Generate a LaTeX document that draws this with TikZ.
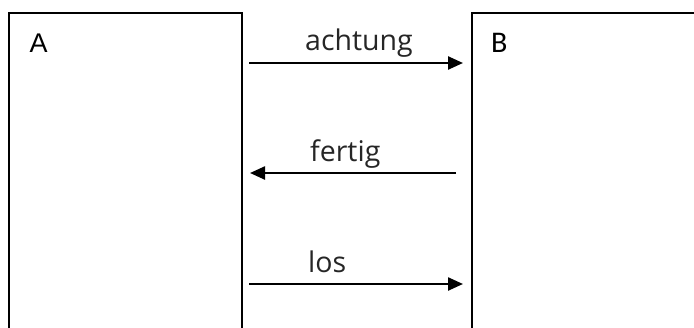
\documentclass[tikz,border=0pt]{standalone}
\usepackage{fontspec}
\setmainfont{Open Sans}
\newfontfamily\boxfontA{Liberation Sans}
\newfontfamily\boxfontB{Carlito}
\usetikzlibrary{arrows.meta,calc}

\tikzset{
  party/.style={draw, line width=2pt, outer sep=0pt, inner sep=0pt,
    rectangle, anchor=north west},
  msg/.style={line width=2.4pt, -{Triangle[length=15pt,width=13pt]}},
  msglabel/.style={inner sep=0pt, anchor=base west, font=\fontsize{28.5}{32}\selectfont, text=black!85},
}

\begin{document}
\begin{tikzpicture}[x=1pt,y=-1pt]
  \clip (0,0) rectangle (694,327);
  \fill[white] (0,0) rectangle (694,327);

  % the two parties, open towards the bottom (and B to the right)
  \node[party, minimum width=233pt, minimum height=400pt] (A) at (9,13) {};
  \node[party, minimum width=260pt, minimum height=400pt] (B) at (472,13) {};
  \node[inner sep=0pt, anchor=base west, font=\boxfontA\fontsize{27}{30}\selectfont] (Alabel) at (29.5,52) {A};
  \node[inner sep=0pt, anchor=base west, font=\boxfontB\fontsize{30}{32}\selectfont] (Blabel) at (491,52) {B};

  % message rows
  \coordinate (m1) at (0,63);
  \coordinate (m2) at (0,173);
  \coordinate (m3) at (0,284);

  \draw[msg, shorten <=7pt, shorten >=9pt] (A.north east |- m1) -- (B.north west |- m1);
  \draw[msg, shorten <=16pt, shorten >=8pt] (B.north west |- m2) -- (A.north east |- m2);
  \draw[msg, shorten <=7pt, shorten >=9pt] (A.north east |- m3) -- (B.north west |- m3);

  \node[msglabel] (l1) at (305,50) {achtung};
  \node[msglabel] (l2) at (310,161) {fertig};
  \node[msglabel] (l3) at (308,272) {los};
\end{tikzpicture}
\end{document}
